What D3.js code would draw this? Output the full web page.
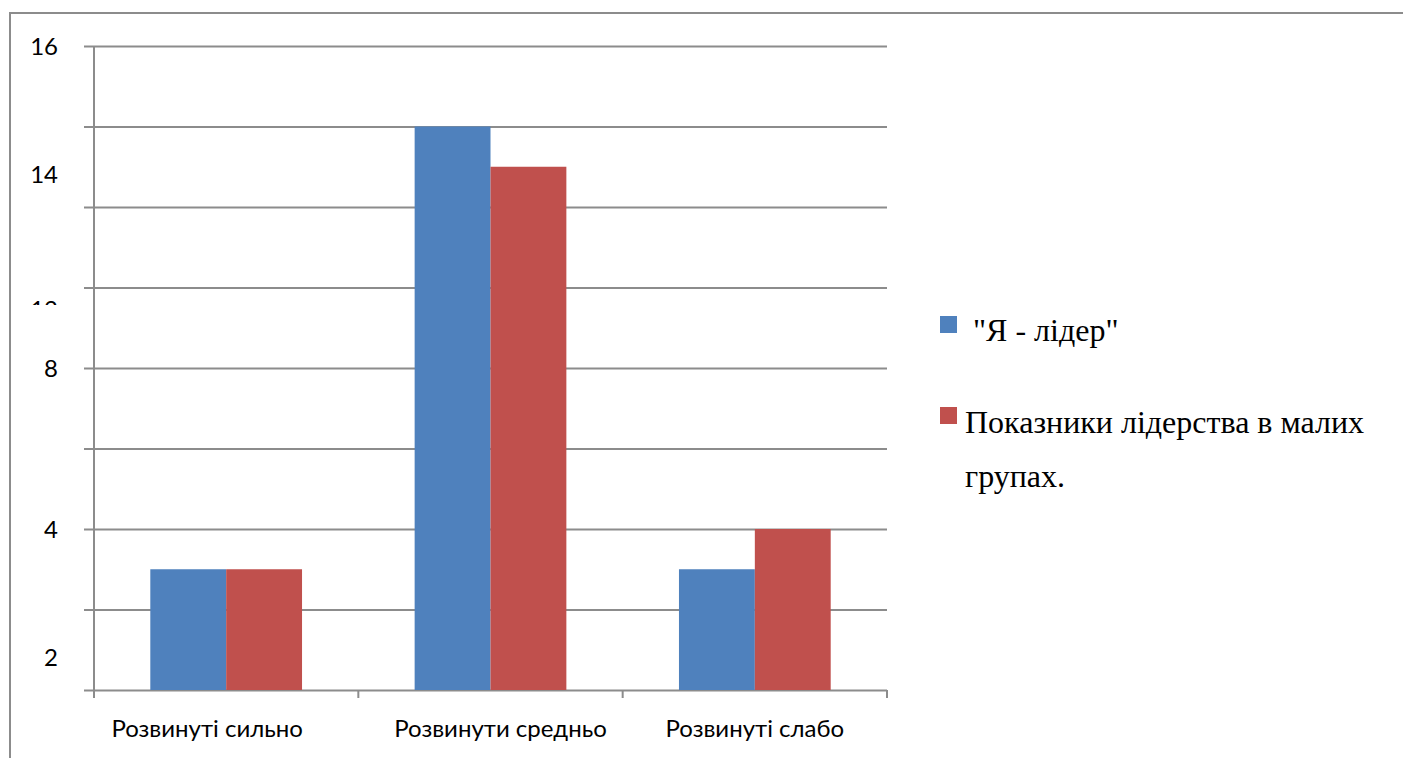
<!DOCTYPE html>
<html>
<head>
<meta charset="utf-8">
<script src="https://cdn.jsdelivr.net/npm/d3@7/dist/d3.min.js"></script>
<style>
  body { margin: 0; background: #fff; }
  svg { display: block; }
</style>
</head>
<body>
<div id="chart"></div>
<script>
// data
var categories = ["Розвинуті сильно", "Розвинути средньо", "Розвинуті слабо"];
var seriesNames = ["\"Я - лідер\"", "Показники лідерства в малих групах."];
var seriesYa = [3, 14, 3];
var seriesGroups = [3, 13, 4];
var gridTicks = [0, 2, 4, 6, 8, 10, 12, 14, 16];
// the tick labels in the picture are shifted, kept as they appear
var yLabelText = ["16", "14", "12", "8", "4", "2"];
var yLabelAt = [16, 12.8, 9.45, 8, 4, 0.8];
var colors = ["#4f81bd", "#c0504d"];

var width = 1403, height = 758;
var plot = { left: 94, right: 887, top: 46, bottom: 690 };
// category labels are not quite centred under their groups in the picture
var catLabelShift = [-19, 10, 0];

var svg = d3.select("#chart").append("svg")
  .attr("width", width)
  .attr("height", height);

// outer frame
svg.append("rect")
  .attr("x", 10).attr("y", 13)
  .attr("width", 1420).attr("height", 800)
  .attr("fill", "none")
  .attr("stroke", "#8c8c8c")
  .attr("stroke-width", 2);

var y = d3.scaleLinear().domain([0, 16]).range([plot.bottom, plot.top]);
var x0 = d3.scaleBand().domain(categories).range([plot.left, plot.right]);
var x1 = d3.scaleBand().domain([0, 1])
  .range([x0.bandwidth() * 0.213, x0.bandwidth() * 0.787]);

// gridlines
var grid = svg.append("g")
  .attr("transform", "translate(" + (plot.left - 10) + ",0)")
  .call(d3.axisLeft(y).tickValues(gridTicks).tickSizeInner(-(plot.right - plot.left + 10)).tickSizeOuter(0).tickFormat(""));
grid.select(".domain").remove();
grid.selectAll("line").attr("stroke", "#8c8c8c").attr("stroke-width", 2);

// bars
var rows = categories.map(function(c, i) { return { cat: c, vals: [seriesYa[i], seriesGroups[i]] }; });
var groups = svg.selectAll(".grp")
  .data(rows)
  .enter().append("g")
  .attr("class", "grp")
  .attr("transform", function(d) { return "translate(" + x0(d.cat) + ",0)"; });

groups.selectAll("rect")
  .data(function(d) { return d.vals; })
  .enter().append("rect")
  .attr("x", function(d, i) { return x1(i); })
  .attr("y", function(d) { return y(d); })
  .attr("width", x1.bandwidth())
  .attr("height", function(d) { return plot.bottom - y(d); })
  .attr("fill", function(d, i) { return colors[i]; });

// y axis line
svg.append("line")
  .attr("x1", plot.left).attr("x2", plot.left)
  .attr("y1", plot.top).attr("y2", plot.bottom + 8)
  .attr("stroke", "#8c8c8c").attr("stroke-width", 2);

// x axis
var xAxis = svg.append("g")
  .attr("transform", "translate(0," + plot.bottom + ")")
  .call(d3.axisBottom(x0).tickSize(0).tickSizeOuter(0));
xAxis.select(".domain").remove();
xAxis.attr("font-size", null).attr("font-family", null);
xAxis.selectAll("text")
  .attr("dy", 0).attr("y", 47)
  .attr("x", function(d, i) { return catLabelShift[i]; })
  .style("font-family", "Lato, 'Open Sans', sans-serif")
  .style("font-size", "24px")
  .attr("fill", "#000");

var xt = x0.range().concat(categories.slice(1).map(function(c) { return x0(c); }));
svg.selectAll(".xtick")
  .data(xt)
  .enter().append("line")
  .attr("x1", function(d) { return d; }).attr("x2", function(d) { return d; })
  .attr("y1", plot.bottom).attr("y2", plot.bottom + 8)
  .attr("stroke", "#8c8c8c").attr("stroke-width", 2);

// y labels (the "12" is cut off in the picture)
svg.append("clipPath").attr("id", "clip12")
  .append("rect").attr("x", 0).attr("y", 0).attr("width", 90).attr("height", 305);
svg.selectAll(".ylab")
  .data(yLabelText)
  .enter().append("text")
  .attr("class", "ylab")
  .attr("x", 58)
  .attr("y", function(d, i) { return y(yLabelAt[i]); })
  .attr("dy", "0.36em")
  .attr("text-anchor", "end")
  .attr("clip-path", function(d) { return d === "12" ? "url(#clip12)" : null; })
  .style("font-family", "Lato, 'Open Sans', sans-serif")
  .style("font-size", "24px")
  .text(function(d) { return d; });

// legend
var legend = svg.append("g")
  .attr("transform", "translate(940,0)")
  .style("font-family", "'Liberation Serif', 'Times New Roman', serif")
  .style("font-size", "32px");
legend.append("rect").attr("x", 0).attr("y", 316).attr("width", 17).attr("height", 17).attr("fill", colors[0]);
legend.append("text").attr("x", 33).attr("y", 341).text(seriesNames[0]);
legend.append("rect").attr("x", 0).attr("y", 407).attr("width", 17).attr("height", 17).attr("fill", colors[1]);
var t2 = legend.append("text").attr("x", 25).attr("y", 433);
t2.append("tspan").attr("x", 25).text("Показники лідерства в малих");
t2.append("tspan").attr("x", 25).attr("dy", 54).text("групах.");
</script>
</body>
</html>
